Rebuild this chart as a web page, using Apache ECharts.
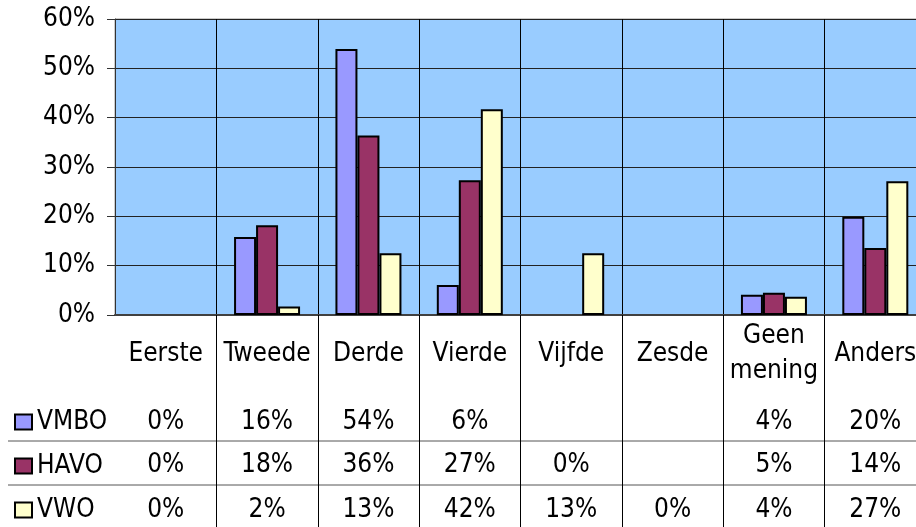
<!DOCTYPE html>
<html><head><meta charset="utf-8">
<script src="https://cdn.jsdelivr.net/npm/echarts@6/dist/echarts.min.js"></script>
<style>html,body{margin:0;padding:0;background:#fff}#c{width:916px;height:527px}</style>
</head><body><div id="c"></div>
<script>
const categories = ['Eerste', 'Tweede', 'Derde', 'Vierde', 'Vijfde', 'Zesde', 'Geen\nmening', 'Anders'];
const seriesNames = ['VMBO', 'HAVO', 'VWO'];
const vmbo = [0, 15.8, 53.9, 6.1, null, null, 4.1, 19.9];
const havo = [0, 18.2, 36.4, 27.3, 0, null, 4.5, 13.6];
const vwo  = [0, 1.7, 12.5, 41.7, 12.5, 0, 3.7, 27.1];
const yMin = 0, yMax = 60, yStep = 10;
const colors = ['#9999FF', '#993366', '#FFFFCC'];

const seriesData = [vmbo, havo, vwo];
const FONT = "'DejaVu Sans Condensed', 'DejaVu Sans', sans-serif";
const FS = 26;
const fmt = v => (v === null || v === undefined) ? '' : Math.round(v) + '%';
const rowMargins = [107, 150, 195];

const chart = echarts.init(document.getElementById('c'), null, {renderer: 'canvas'});

const xAxes = [{
  type: 'category', data: categories, gridIndex: 0, position: 'bottom',
  boundaryGap: true,
  axisLine: {show: true, lineStyle: {color: '#404040', width: 2}},
  axisTick: {show: true, length: 212, interval: (i) => i !== 0, lineStyle: {color: '#000', width: 1}},
  splitLine: {show: true, interval: 0, lineStyle: {color: '#000', width: 1}},
  axisLabel: {show: true, interval: 0, margin: 39, verticalAlign: 'middle', lineHeight: 35,
    color: '#000', fontFamily: FONT, fontSize: FS}
}];
seriesData.forEach((arr, k) => {
  xAxes.push({
    type: 'category', data: categories, gridIndex: 0, position: 'bottom',
    axisLine: {show: false}, axisTick: {show: false}, splitLine: {show: false},
    axisLabel: {show: true, interval: 0, margin: rowMargins[k], verticalAlign: 'middle',
      color: '#000', fontFamily: FONT, fontSize: FS,
      formatter: (v, i) => fmt(arr[i])}
  });
});

chart.setOption({
  animation: false,
  backgroundColor: '#fff',
  grid: {left: 115, top: 19, width: 811, height: 296, show: true,
    backgroundColor: '#99CCFF', borderColor: '#999', borderWidth: 1,
    containLabel: false, outerBoundsMode: 'none'},
  legend: {
    orient: 'vertical', left: 14, top: 407, padding: 0, itemGap: 14,
    itemWidth: 17, itemHeight: 15, icon: 'rect',
    data: seriesNames,
    textStyle: {color: '#000', fontFamily: FONT, fontSize: FS, lineHeight: 30},
    selectedMode: false
  },
  xAxis: xAxes,
  yAxis: {
    type: 'value', min: yMin, max: yMax, interval: yStep,
    axisLine: {show: true, lineStyle: {color: '#333', width: 1}},
    axisTick: {show: true, length: 8, lineStyle: {color: '#333'}},
    splitLine: {show: true, lineStyle: {color: '#222', width: 1}},
    axisLabel: {margin: 20, color: '#000', fontFamily: FONT, fontSize: FS, formatter: v => v + '%'}
  },
  graphic: [
    {type: 'line', shape: {x1: 8, y1: 441, x2: 916, y2: 441}, style: {stroke: '#555', lineWidth: 1}},
    {type: 'line', shape: {x1: 8, y1: 485, x2: 916, y2: 485}, style: {stroke: '#555', lineWidth: 1}}
  ],
  series: seriesNames.map((name, k) => ({
    name, type: 'bar', xAxisIndex: 0, yAxisIndex: 0,
    data: seriesData[k].map(v => v === 0 ? {value: 0, itemStyle: {borderWidth: 0}} : v),
    barWidth: 22, barGap: '0%',
    itemStyle: {color: colors[k], borderColor: '#000', borderWidth: 2}
  }))
});
</script></body></html>
